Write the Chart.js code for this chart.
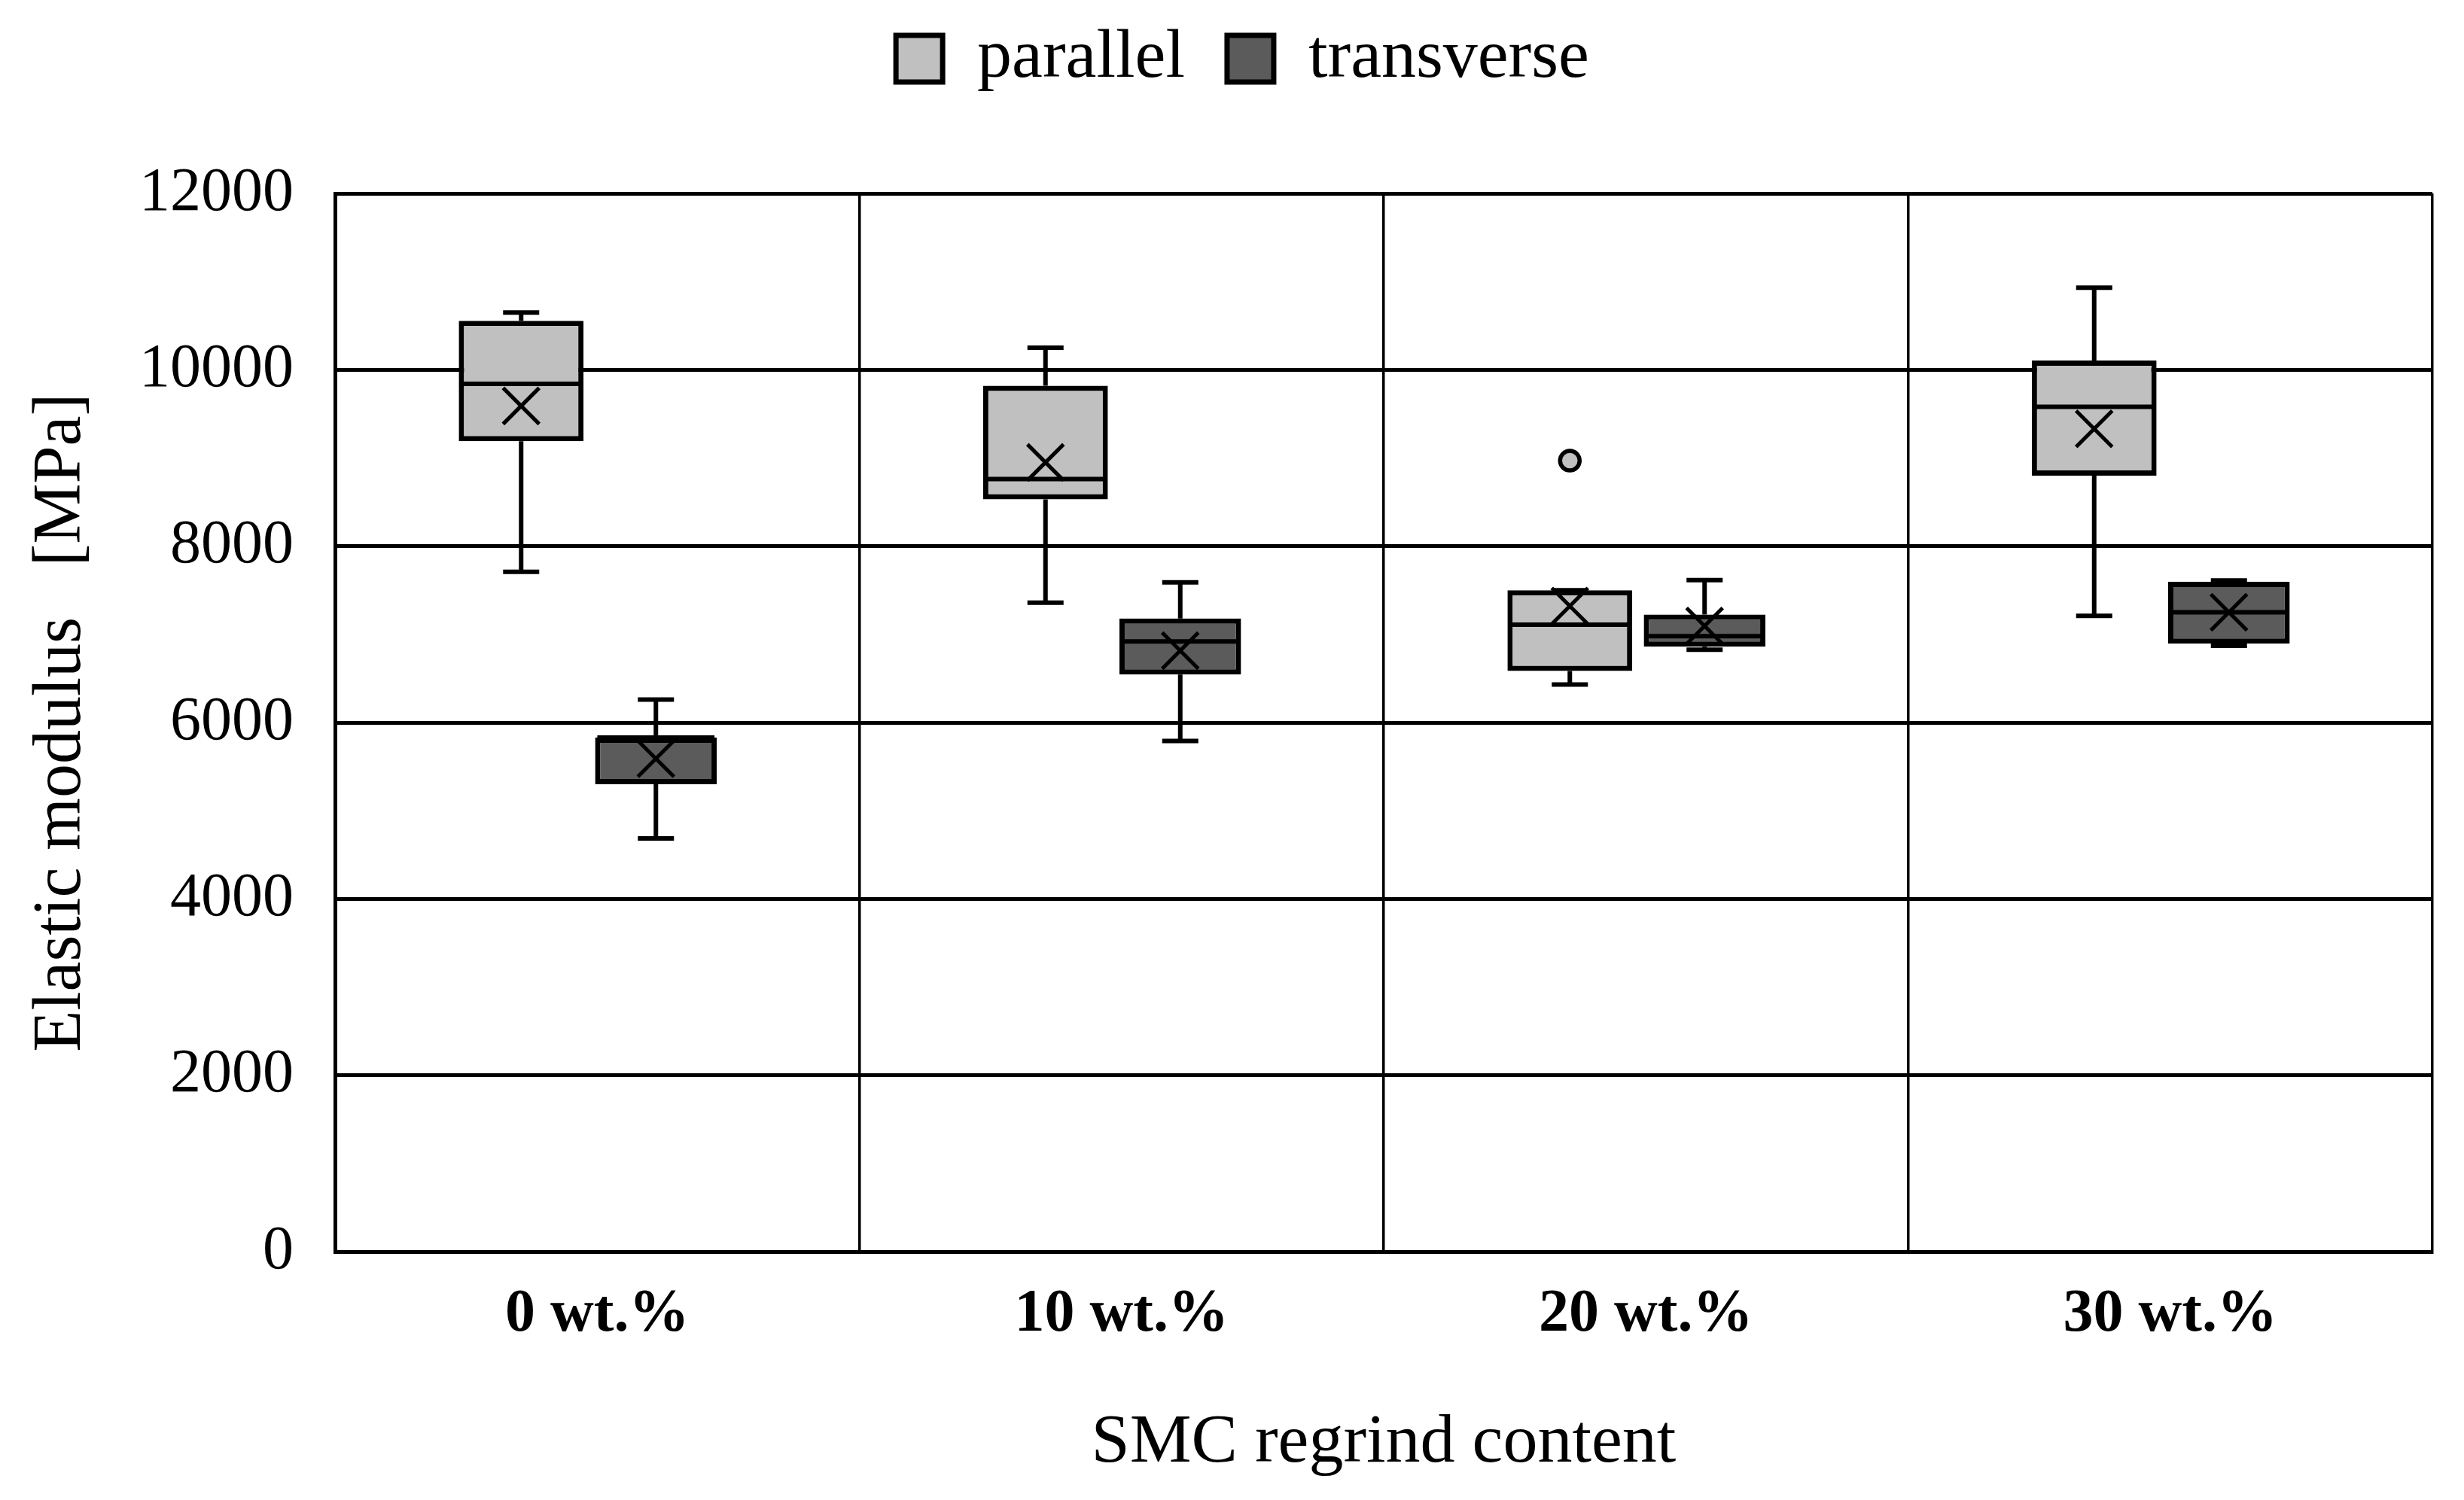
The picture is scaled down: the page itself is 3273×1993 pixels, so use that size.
<!DOCTYPE html>
<html>
<head>
<meta charset="utf-8">
<title>Elastic modulus vs SMC regrind content</title>
<script src="https://cdn.jsdelivr.net/npm/chart.js@4.4.1/dist/chart.umd.min.js"></script>
<style>
  html, body { margin: 0; padding: 0; background: #fff; }
  canvas { display: block; }
</style>
</head>
<body>
<canvas id="chart" width="3273" height="1993"></canvas>
<script>
const categories = ["0 wt.%", "10 wt.%", "20 wt.%", "30 wt.%"];
const yTicks = [0, 2000, 4000, 6000, 8000, 10000, 12000];

// parallel to flow direction
const parallelMin = [7710, 7360, 6430, 7210];
const parallelQ1 = [9190, 8530, 6585, 8800];
const parallelMedian = [9840, 8760, 7110, 9580];
const parallelQ3 = [10555, 9820, 7500, 10105];
const parallelMax = [10650, 10250, 7500, 10930];
const parallelMean = [9590, 8950, 7320, 9330];
const parallelOutliers = [[], [], [8970], []];

// transverse to flow direction
const transverseMin = [4685, 5790, 6825, 6870];
const transverseQ1 = [5300, 6545, 6860, 6895];
const transverseMedian = [5830, 6920, 6980, 7250];
const transverseQ3 = [5830, 7180, 7225, 7595];
const transverseMax = [6260, 7590, 7615, 7612];
const transverseMean = [5590, 6815, 7095, 7250];
const transverseOutliers = [[], [], [], []];

const FONT = "'Liberation Serif', 'Times New Roman', serif";

// move the boxes to where the original puts them inside each category
const boxLayout = {
  id: "boxLayout",
  afterDatasetsUpdate(chart) {
    const x = chart.scales.x;
    const step = x.getPixelForValue(1) - x.getPixelForValue(0);
    chart.data.datasets.forEach((ds, d) => {
      chart.getDatasetMeta(d).data.forEach((bar, i) => {
        bar.x = x.getPixelForValue(i) + ds.shift * step;
        bar.width = ds.boxWidth * step;
      });
    });
  }
};

// whiskers, median, mean cross and outliers
const boxMarks = {
  id: "boxMarks",
  afterDatasetsDraw(chart) {
    const { ctx } = chart;
    const y = chart.scales.y;
    const cap = 24;
    ctx.save();
    ctx.strokeStyle = "#000";
    ctx.lineCap = "butt";
    chart.data.datasets.forEach((ds, d) => {
      const st = ds.stats;
      chart.getDatasetMeta(d).data.forEach((bar, i) => {
        const cx = bar.x;
        const half = bar.width / 2;
        const q3 = y.getPixelForValue(st.q3[i]);
        const q1 = y.getPixelForValue(st.q1[i]);
        const hi = y.getPixelForValue(st.max[i]);
        const lo = y.getPixelForValue(st.min[i]);
        const med = y.getPixelForValue(st.median[i]);
        const mean = y.getPixelForValue(st.mean[i]);

        ctx.lineWidth = 6;
        ctx.beginPath();
        ctx.moveTo(cx, q3); ctx.lineTo(cx, hi);
        ctx.moveTo(cx - cap, hi); ctx.lineTo(cx + cap, hi);
        ctx.moveTo(cx, q1); ctx.lineTo(cx, lo);
        ctx.moveTo(cx - cap, lo); ctx.lineTo(cx + cap, lo);
        ctx.moveTo(cx - half + 3, med); ctx.lineTo(cx + half - 3, med);
        ctx.stroke();

        ctx.lineWidth = 5;
        ctx.beginPath();
        ctx.moveTo(cx - cap, mean - cap); ctx.lineTo(cx + cap, mean + cap);
        ctx.moveTo(cx - cap, mean + cap); ctx.lineTo(cx + cap, mean - cap);
        ctx.stroke();

        st.outliers[i].forEach(v => {
          ctx.beginPath();
          ctx.arc(cx, y.getPixelForValue(v), 13, 0, Math.PI * 2);
          ctx.fillStyle = ds.backgroundColor;
          ctx.fill();
          ctx.lineWidth = 5.5;
          ctx.stroke();
        });
      });
    });
    ctx.restore();
  }
};

// room above the plot for the legend
const legendSpace = {
  id: "legendSpace",
  beforeInit(chart) {
    const fit = chart.legend.fit;
    chart.legend.fit = function () {
      fit.call(this);
      this.height = 257;
    };
  },
  afterLayout(chart) {
    chart.legend.top = -24;
    chart.legend.left += 35;
    chart.legend.right += 35;
  }
};

new Chart(document.getElementById("chart"), {
  type: "bar",
  data: {
    labels: categories,
    datasets: [
      {
        label: "parallel",
        data: parallelQ1.map((v, i) => [v, parallelQ3[i]]),
        stats: { min: parallelMin, q1: parallelQ1, median: parallelMedian, q3: parallelQ3, max: parallelMax, mean: parallelMean, outliers: parallelOutliers },
        backgroundColor: "#c0c0c0",
        borderColor: "#000",
        borderWidth: 7,
        borderSkipped: false,
        shift: -0.145,
        boxWidth: 0.238
      },
      {
        label: "transverse",
        data: transverseQ1.map((v, i) => [v, transverseQ3[i]]),
        stats: { min: transverseMin, q1: transverseQ1, median: transverseMedian, q3: transverseQ3, max: transverseMax, mean: transverseMean, outliers: transverseOutliers },
        backgroundColor: "#5b5b5b",
        borderColor: "#000",
        borderWidth: 7,
        borderSkipped: false,
        shift: 0.112,
        boxWidth: 0.232
      }
    ]
  },
  options: {
    responsive: false,
    animation: false,
    layout: { padding: { left: 0, right: 42, top: 0, bottom: 0 } },
    plugins: {
      tooltip: { enabled: false },
      legend: {
        position: "top",
        labels: {
          color: "#000",
          font: { family: FONT, size: 92 },
          boxWidth: 62,
          boxHeight: 62,
          padding: 56
        }
      }
    },
    scales: {
      x: {
        offset: true,
        grid: { display: true, offset: true, color: "#000", lineWidth: 3.5, drawTicks: false },
        border: { display: true, color: "#000", width: 5 },
        ticks: { color: "#000", padding: 36, font: { family: FONT, size: 80, weight: "bold" } },
        title: {
          display: true,
          text: "SMC regrind content",
          color: "#000",
          font: { family: FONT, size: 92 },
          padding: { top: 0, bottom: 20 }
        },
        afterFit(scale) { scale.height = 330; }
      },
      y: {
        min: 0,
        max: 12000,
        grid: { color: "#000", lineWidth: 5, drawTicks: false },
        border: { display: true, color: "#000", width: 5 },
        ticks: {
          color: "#000",
          padding: 55,
          font: { family: FONT, size: 82 },
          callback: v => String(v)
        },
        afterBuildTicks(scale) { scale.ticks = yTicks.map(v => ({ value: v })); },
        title: {
          display: true,
          text: "Elastic modulus \u00a0\u00a0[MPa]",
          color: "#000",
          font: { family: FONT, size: 90 },
          padding: { top: 28, bottom: 0 }
        },
        afterFit(scale) { scale.width = 445; }
      }
    }
  },
  plugins: [boxLayout, boxMarks, legendSpace]
});
</script>
</body>
</html>
